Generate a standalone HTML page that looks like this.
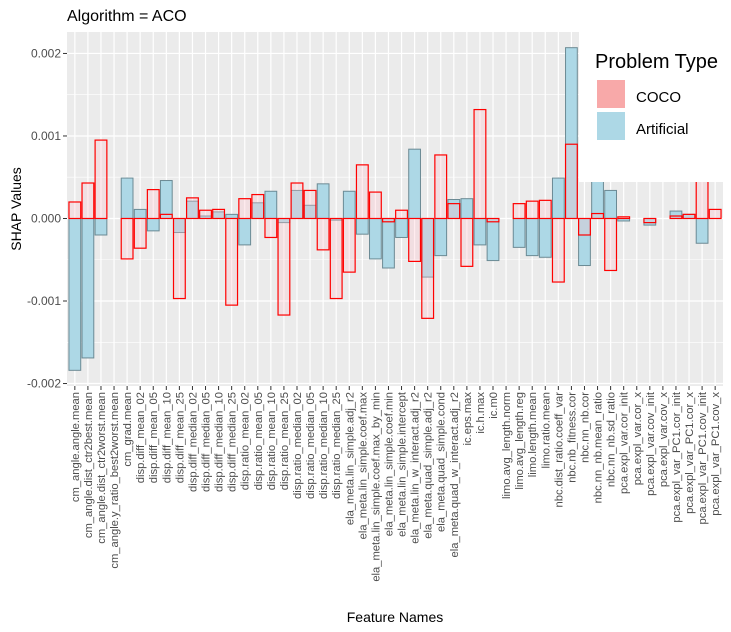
<!DOCTYPE html>
<html><head><meta charset="utf-8"><style>
body{margin:0;background:#fff;}
svg{display:block;font-family:"Liberation Sans",Arial,sans-serif;}
</style></head><body>
<svg id="c" width="731" height="632"></svg>
<script>
const categories=["cm_angle.angle.mean","cm_angle.dist_ctr2best.mean","cm_angle.dist_ctr2worst.mean","cm_angle.y_ratio_best2worst.mean","cm_grad.mean","disp.diff_mean_02","disp.diff_mean_05","disp.diff_mean_10","disp.diff_mean_25","disp.diff_median_02","disp.diff_median_05","disp.diff_median_10","disp.diff_median_25","disp.ratio_mean_02","disp.ratio_mean_05","disp.ratio_mean_10","disp.ratio_mean_25","disp.ratio_median_02","disp.ratio_median_05","disp.ratio_median_10","disp.ratio_median_25","ela_meta.lin_simple.adj_r2","ela_meta.lin_simple.coef.max","ela_meta.lin_simple.coef.max_by_min","ela_meta.lin_simple.coef.min","ela_meta.lin_simple.intercept","ela_meta.lin_w_interact.adj_r2","ela_meta.quad_simple.adj_r2","ela_meta.quad_simple.cond","ela_meta.quad_w_interact.adj_r2","ic.eps.max","ic.h.max","ic.m0","limo.avg_length.norm","limo.avg_length.reg","limo.length.mean","limo.ratio.mean","nbc.dist_ratio.coeff_var","nbc.nb_fitness.cor","nbc.nn_nb.cor","nbc.nn_nb.mean_ratio","nbc.nn_nb.sd_ratio","pca.expl_var.cor_init","pca.expl_var.cor_x","pca.expl_var.cov_init","pca.expl_var.cov_x","pca.expl_var_PC1.cor_init","pca.expl_var_PC1.cor_x","pca.expl_var_PC1.cov_init","pca.expl_var_PC1.cov_x"];
const artificial=[-1.84,-1.69,-0.2,0,0.49,0.11,-0.15,0.46,-0.17,0.21,0.03,0.08,0.05,-0.32,0.19,0.33,-0.05,0.34,0.16,0.42,-0.02,0.33,-0.19,-0.49,-0.6,-0.23,0.84,-0.71,-0.45,0.23,0.24,-0.32,-0.51,0,-0.35,-0.45,-0.47,0.49,2.07,-0.57,0.6,0.34,-0.03,0,-0.08,0,0.09,0.05,-0.3,0];
const coco=[0.2,0.43,0.95,0,-0.49,-0.36,0.35,0.05,-0.97,0.25,0.1,0.11,-1.05,0.24,0.29,-0.23,-1.17,0.43,0.34,-0.38,-0.97,-0.65,0.65,0.32,-0.04,0.1,-0.52,-1.21,0.77,0.18,-0.58,1.32,-0.04,0,0.18,0.21,0.22,-0.77,0.9,-0.2,0.06,-0.63,0.02,0,-0.05,0,0.03,0.05,0.6,0.11];
const yTicks=[-2,-1,0,1,2];
const yTickLabels=["-0.002","-0.001","0.000","0.001","0.002"];

const NS="http://www.w3.org/2000/svg";
const svg=document.getElementById('c');
const L=67,R=723,T=32,B=386;
const yMin=-2.03,yMax=2.26;
const n=categories.length;
const step=(R-L)/(n-1+1.2);
function xs(i){return L+step*(0.6+i);}
function ys(v){return T+(yMax-v)/(yMax-yMin)*(B-T);}
function mk(tag,attrs,parent){const e=document.createElementNS(NS,tag);for(const k in attrs)e.setAttribute(k,attrs[k]);(parent||svg).appendChild(e);return e;}

let t=mk('text',{x:67,y:21,'font-size':16,fill:'#000'});
t.textContent='Algorithm = ACO';

let p=mk('rect',{x:L,y:T,width:R-L,height:B-T,fill:'#ebebeb'});


for(let v=-1.5;v<=2;v+=1){mk('line',{x1:L,x2:R,y1:ys(v),y2:ys(v),stroke:'#fff','stroke-width':0.6});}
yTicks.forEach((v,k)=>{
  mk('line',{x1:L,x2:R,y1:ys(v),y2:ys(v),stroke:'#fff','stroke-width':1.2});
  mk('line',{x1:L-4,x2:L,y1:ys(v),y2:ys(v),stroke:'#333','stroke-width':1});
  const tl=mk('text',{x:L-6,y:ys(v)+4,'font-size':12,fill:'#4d4d4d','text-anchor':'end'});
  
  tl.textContent=yTickLabels[k];
});
categories.forEach((c,i)=>{
  const x=xs(i);
  mk('line',{x1:x,x2:x,y1:T,y2:B,stroke:'#fff','stroke-width':1.2});
  mk('line',{x1:x,x2:x,y1:B,y2:B+4,stroke:'#333','stroke-width':1});
  const tl=mk('text',{x:0,y:0,'font-size':11.2,fill:'#4d4d4d','text-anchor':'end',transform:`translate(${x+4},${B+6}) rotate(-90)`});
  
  tl.textContent=c;
});
const bw=step*0.9;
artificial.forEach((v,i)=>{
  const y0=ys(0),y1=ys(v);
  const r=mk('rect',{x:xs(i)-bw/2,y:Math.min(y0,y1),width:bw,height:Math.abs(y1-y0),fill:'#add8e6',stroke:'#6b8a94','stroke-width':1});
  
});
coco.forEach((v,i)=>{
  const y0=ys(0),y1=ys(v);
  const r=mk('rect',{x:xs(i)-bw/2,y:Math.min(y0,y1),width:bw,height:Math.abs(y1-y0),fill:'rgba(255,192,203,0.3)',stroke:'#ff0000','stroke-width':1.2});
  
});

let g=mk('g',{});

mk('rect',{x:579,y:32,width:152,height:150,fill:'#fff'},g);
let lt=mk('text',{x:595,y:68,'font-size':20,fill:'#000'},g);lt.textContent='Problem Type';
let k1=mk('rect',{x:597,y:80,width:28,height:28,fill:'#f8a9a9'},g);

let k2=mk('rect',{x:597,y:112,width:28,height:28,fill:'#add8e6'},g);

let l1=mk('text',{x:636,y:102,'font-size':15,fill:'#000'},g);l1.textContent='COCO';
let l2=mk('text',{x:636,y:134,'font-size':15,fill:'#000'},g);l2.textContent='Artificial';

let xt=mk('text',{x:395,y:622,'font-size':14,fill:'#000','text-anchor':'middle'});
xt.textContent='Feature Names';
let yt=mk('text',{x:0,y:0,'font-size':14,fill:'#000','text-anchor':'middle',transform:`translate(21,${(T+B)/2}) rotate(-90)`});
yt.textContent='SHAP Values';
</script>
</body></html>
